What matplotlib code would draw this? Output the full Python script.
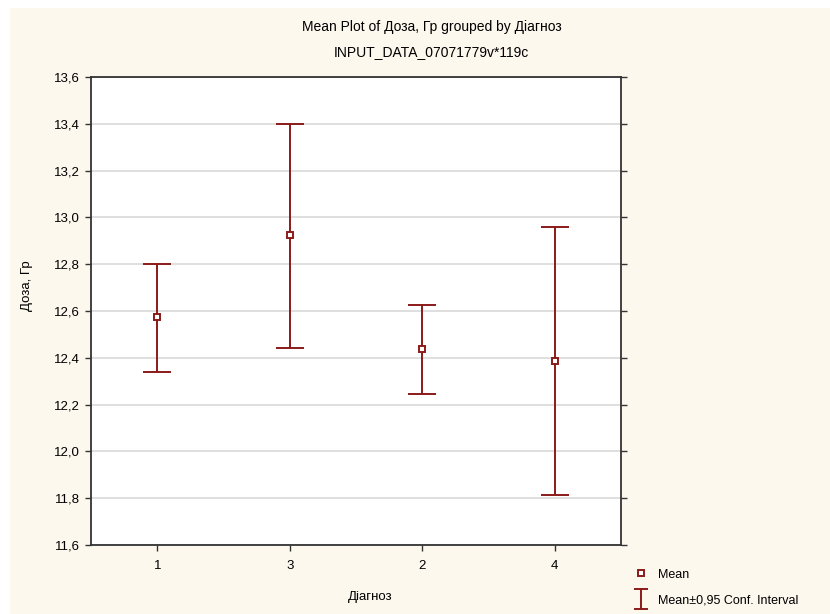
import matplotlib

matplotlib.use("Agg")
import matplotlib.pyplot as plt
from matplotlib.patches import Rectangle
from matplotlib.lines import Line2D
from matplotlib.path import Path
from matplotlib.ticker import FuncFormatter

categories = ["1", "3", "2", "4"]
means = [12.576, 12.924, 12.438, 12.386]
ci_low = [12.338, 12.442, 12.244, 11.812]
ci_high = [12.800, 13.400, 12.624, 12.959]
yticks = [11.6, 11.8, 12.0, 12.2, 12.4, 12.6, 12.8, 13.0, 13.2, 13.4, 13.6]

RED = "#8b1a1a"
CREAM = "#fdf8ee"
plt.rcParams["font.family"] = ["Liberation Sans", "DejaVu Sans"]

fig = plt.figure(figsize=(8.3, 6.14), dpi=100)
fig.patch.set_facecolor("white")
fig.patches.append(Rectangle((10 / 830, 0), 1, 1 - 8 / 614, transform=fig.transFigure,
                             facecolor=CREAM, edgecolor="none", zorder=-10))

ax = fig.add_axes([91 / 830, 1 - 545 / 614, 530 / 830, 468 / 614])
ax.set_facecolor("white")

x = list(range(len(categories)))
lo = [m - l for m, l in zip(means, ci_low)]
hi = [h - m for m, h in zip(means, ci_high)]
ax.errorbar(x, means, yerr=[lo, hi], fmt="none", ecolor=RED, elinewidth=1.4,
            capsize=10, capthick=1.4, zorder=3)
ax.plot(x, means, "s", color=RED, markerfacecolor="white", markersize=5,
        markeredgewidth=1.4, zorder=4)

ax.set_xlim(-0.5, 3.5)
ax.set_ylim(11.6, 13.6)
ax.set_xticks(x)
ax.set_xticklabels(categories)
ax.set_yticks(yticks)
ax.yaxis.set_major_formatter(FuncFormatter(lambda v, p: f"{v:.1f}".replace(".", ",")))
ax.grid(axis="y", color="#d9d9d9", lw=1.2)
ax.set_axisbelow(True)
ax.tick_params(axis="both", direction="out", length=4, width=1, labelsize=9.5, color="#333333")
ax.tick_params(axis="y", right=True, pad=4)
ax.tick_params(axis="x", pad=7)
for s in ax.spines.values():
    s.set_linewidth(1.3)
    s.set_color("#333333")

ax.set_xlabel("Діагноз", fontsize=9.5)
ax.xaxis.set_label_coords((370 - 91) / 530, -(591 - 545) / 468)
ax.set_ylabel("Доза, Гр", fontsize=9.5)
ax.yaxis.set_label_coords(-(91 - 33) / 530, (545 - 286) / 468)

fig.text(0.52, 1 - 27 / 614, "Mean Plot of Доза, Гр grouped by Діагноз",
         ha="center", va="center", fontsize=10)
fig.text(0.52, 1 - 52 / 614, "INPUT_DATA_07071779v*119c",
         ha="center", va="center", fontsize=10)

ibeam = Path([(-0.75, -1), (0.75, -1), (0, -1), (0, 1), (-0.75, 1), (0.75, 1)],
             [Path.MOVETO, Path.LINETO, Path.MOVETO, Path.LINETO, Path.MOVETO, Path.LINETO])
handles = [
    Line2D([], [], marker="s", color=RED, markerfacecolor="white", linestyle="none",
           markersize=5, markeredgewidth=1.4),
    Line2D([], [], marker=ibeam, color=RED, linestyle="none", markersize=14,
           markeredgewidth=1.4),
]
fig.legend(handles, ["Mean", "Mean±0,95 Conf. Interval"], loc="lower left",
           bbox_to_anchor=(627 / 830, 0.0), frameon=False, fontsize=9,
           handlelength=1.0, handletextpad=0.9, labelspacing=1.1, borderaxespad=0.2)

fig.savefig("out.png", dpi=100, facecolor=fig.get_facecolor())
